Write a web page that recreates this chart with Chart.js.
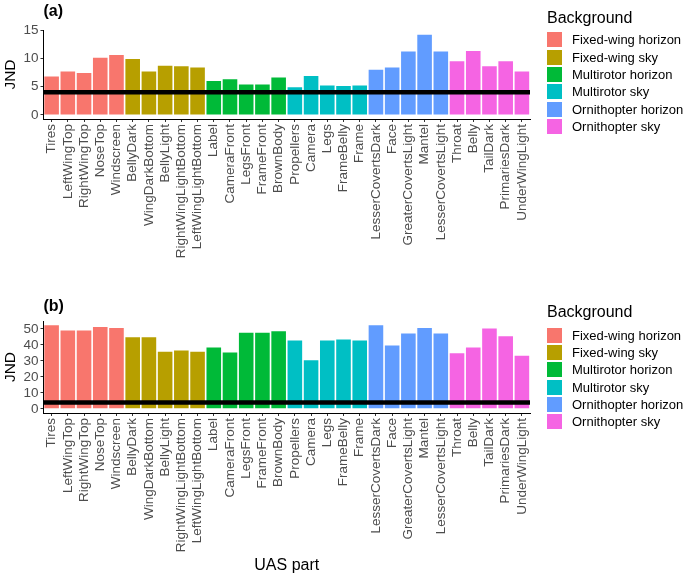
<!DOCTYPE html>
<html>
<head>
<meta charset="utf-8">
<script src="https://cdn.jsdelivr.net/npm/chart.js@4.4.1/dist/chart.umd.min.js"></script>
<style>
  body { margin: 0; background: #fff; position: relative; }
  canvas { display: block; }
  .legend { position: absolute; left: 547px; font-family: 'Liberation Sans', Arial, sans-serif; color: #000; }
  .legend .ttl { font-size: 16px; line-height: 18px; height: 18px; }
  .legend .item { display: flex; align-items: center; height: 17.3px; font-size: 13px; white-space: nowrap; }
  .legend .sw { width: 15px; height: 15px; margin-right: 10px; flex: none; }
</style>
</head>
<body>
<canvas id="chartA" width="685" height="290"></canvas>
<canvas id="chartB" width="685" height="287"></canvas>
<div class="legend" id="legendA" style="top:8.5px"></div>
<div class="legend" id="legendB" style="top:303px"></div>
<script>
const parts = [
    'Tires', 'LeftWingTop', 'RightWingTop', 'NoseTop', 'Windscreen',
    'BellyDark', 'WingDarkBottom', 'BellyLight', 'RightWingLightBottom', 'LeftWingLightBottom',
    'Label', 'CameraFront', 'LegsFront', 'FrameFront', 'BrownBody',
    'Propellers', 'Camera', 'Legs', 'FrameBelly', 'Frame',
    'LesserCovertsDark', 'Face', 'GreaterCovertsLight', 'Mantel', 'LesserCovertsLight',
    'Throat', 'Belly', 'TailDark', 'PrimariesDark', 'UnderWingLight'
];
const backgrounds = ['Fixed-wing horizon', 'Fixed-wing sky', 'Multirotor horizon',
    'Multirotor sky', 'Ornithopter horizon', 'Ornithopter sky'];
// background group of each part (index into backgrounds)
const partBackground = [0,0,0,0,0, 1,1,1,1,1, 2,2,2,2,2, 3,3,3,3,3, 4,4,4,4,4, 5,5,5,5,5];
const bgColors = ['#F8766D', '#B79F00', '#00BA38', '#00BFC4', '#619CFF', '#F564E3'];

const jndA = [6.8, 7.7, 7.4, 10.1, 10.6,
    9.9, 7.7, 8.7, 8.6, 8.4,
    6.0, 6.3, 5.4, 5.4, 6.6,
    4.9, 6.9, 5.2, 5.1, 5.2,
    8.0, 8.4, 11.2, 14.2, 11.2,
    9.5, 11.3, 8.6, 9.5, 7.7];
const jndB = [52.3, 49.0, 49.0, 51.2, 50.6,
    44.8, 44.8, 35.6, 36.5, 35.6,
    38.3, 35.2, 47.5, 47.5, 48.5,
    42.7, 30.4, 42.7, 43.3, 42.7,
    52.3, 39.6, 47.1, 50.6, 47.1,
    34.8, 38.3, 50.2, 45.4, 33.1];
const jndThreshold = 4;

const font = "'Liberation Sans', Arial, sans-serif";

// thick black reference line at JND = 4 across the whole panel
const thresholdLine = {
    id: 'thresholdLine',
    afterDatasetsDraw(chart) {
        const y = chart.scales.y.getPixelForValue(jndThreshold);
        const ctx = chart.ctx;
        ctx.save();
        ctx.strokeStyle = '#000';
        ctx.lineWidth = 4.5;
        ctx.beginPath();
        ctx.moveTo(chart.chartArea.left, y);
        ctx.lineTo(chart.chartArea.right, y);
        ctx.stroke();
        ctx.restore();
    }
};

function buildLegend(id, gap) {
    const box = document.getElementById(id);
    let html = '<div class="ttl" style="margin-bottom:' + gap + 'px">Background</div>';
    backgrounds.forEach((bg, g) => {
        html += '<div class="item"><span class="sw" style="background:' + bgColors[g] + '"></span>' + bg + '</div>';
    });
    box.innerHTML = html;
}

function makeChart(id, values, tag, yMin, yMax, step, opts) {
    const datasets = backgrounds.map((bg, g) => ({
        label: bg,
        data: values.map((v, i) => partBackground[i] === g ? v : null),
        backgroundColor: bgColors[g],
        borderWidth: 0,
        grouped: false,
        barPercentage: 0.9,
        categoryPercentage: 1.0
    }));

    const xTitle = opts.xTitle;

    return new Chart(document.getElementById(id), {
        type: 'bar',
        data: { labels: parts, datasets: datasets },
        options: {
            responsive: false,
            animation: false,
            devicePixelRatio: 1,
            layout: { padding: { left: 0, top: 0, bottom: 0, right: 155 } },
            plugins: {
                tooltip: { enabled: false },
                legend: { display: false },
                title: {
                    display: true,
                    text: tag,
                    align: 'start',
                    fullSize: false,
                    color: '#000',
                    font: { family: font, size: 16, weight: 'bold' },
                    padding: opts.titlePadding
                }
            },
            scales: {
                x: {
                    grid: { display: true, drawOnChartArea: false, offset: false,
                        tickLength: 3, color: '#333', lineWidth: 1 },
                    border: { display: true, color: '#000', width: 1 },
                    ticks: {
                        autoSkip: false, minRotation: 90, maxRotation: 90,
                        padding: 2, color: '#4d4d4d',
                        font: { family: font, size: 13.5 }
                    },
                    title: {
                        display: !!xTitle,
                        text: xTitle || '',
                        color: '#000',
                        font: { family: font, size: 16 },
                        padding: { top: 0, bottom: 2 }
                    },
                    afterFit(s) { s.height = opts.xHeight; }
                },
                y: {
                    min: yMin,
                    max: yMax,
                    grid: { display: true, drawOnChartArea: false,
                        tickLength: 3, color: '#333', lineWidth: 1 },
                    border: { display: true, color: '#000', width: 1 },
                    ticks: {
                        stepSize: step, includeBounds: false, autoSkip: false,
                        padding: 2, color: '#4d4d4d',
                        font: { family: font, size: 13.5 }
                    },
                    title: {
                        display: true,
                        text: 'JND',
                        color: '#000',
                        font: { family: font, size: 15.5 },
                        padding: { top: 1, bottom: 0 }
                    },
                    afterFit(s) { s.width = 43.5; }
                }
            }
        },
        plugins: [thresholdLine]
    });
}

makeChart('chartA', jndA, '(a)', -0.72, 15.02, 5, {
    titlePadding: { top: 2, bottom: 8.8 },
    xHeight: 171
});
makeChart('chartB', jndB, '(b)', -2.62, 54.9, 10, {
    titlePadding: { top: 7.2, bottom: 4.6 },
    xHeight: 164,
    xTitle: 'UAS part'
});
buildLegend('legendA', 4.7);
buildLegend('legendB', 5.6);
</script>
</body>
</html>
